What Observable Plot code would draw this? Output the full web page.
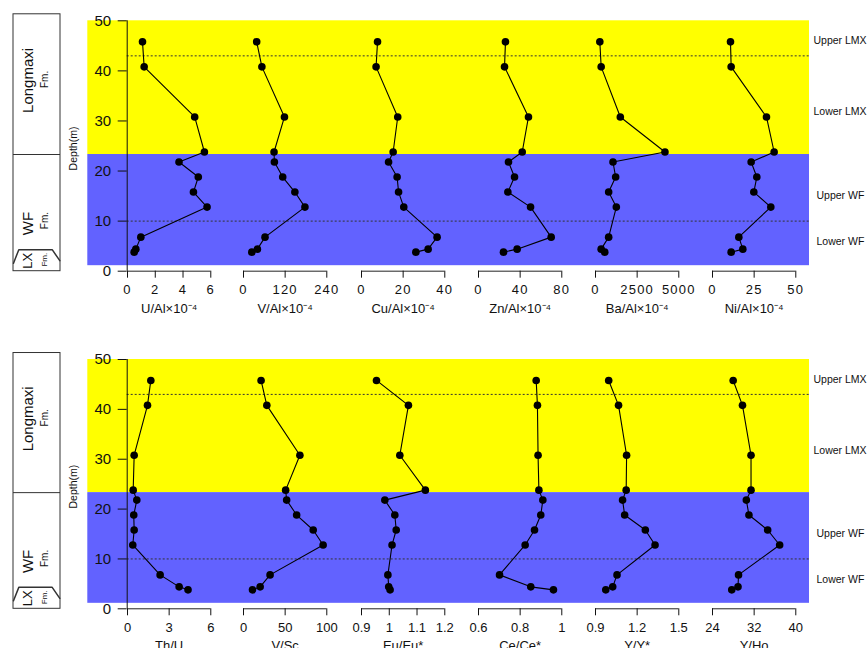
<!DOCTYPE html>
<html>
<head>
<meta charset="utf-8">
<script src="https://cdn.jsdelivr.net/npm/d3@7"></script>
<script src="https://cdn.jsdelivr.net/npm/@observablehq/plot@0.6"></script>
<style>
  html, body { margin: 0; padding: 0; background: #fff; overflow: hidden; }
  #fig { position: relative; width: 867px; height: 648px; overflow: hidden; }
  #fig svg { position: absolute; overflow: visible; }
</style>
</head>
<body>
<div id="fig"></div>
<script>
// Sample depths (m), shared by every profile
const depth = [45.8, 40.8, 30.8, 23.8, 21.8, 18.8, 15.8, 12.8, 6.8, 4.4, 3.8];

// Trace elements normalised to Al (×10⁻⁴)
const uAl  = [1.08, 1.2, 4.84, 5.54, 3.71, 5.1, 4.75, 5.73, 0.96, 0.6, 0.48];
const vAl  = [38, 53, 118, 88, 89, 113, 148, 177, 62, 40, 24];
const cuAl = [7.7, 7.0, 17.4, 15.2, 13.0, 17.1, 17.8, 20.3, 36.3, 32.0, 26.1];
const znAl = [25.9, 25, 48, 42, 28.8, 34.6, 28.2, 50, 69.8, 37.1, 24];
const baAl = [260, 340, 1490, 4170, 1050, 1210, 790, 1250, 790, 340, 555];
const niAl = [10.8, 11.2, 32.4, 37, 23.2, 26.6, 24.8, 35, 15.8, 18.2, 11.2];

// Redox / REE proxies
const thU  = [1.68, 1.44, 0.48, 0.41, 0.67, 0.45, 0.48, 0.38, 2.35, 3.72, 4.36];
const vSc  = [21.1, 28, 67.7, 50.6, 51.8, 63.8, 83.7, 95.6, 31.9, 20, 10.8];
const euEu = [0.954, 1.069, 1.038, 1.130, 0.984, 1.020, 1.025, 1.010, 0.995, 0.998, 1.003];
const ceCe = [0.877, 0.883, 0.886, 0.890, 0.909, 0.899, 0.869, 0.824, 0.701, 0.851, 0.960];
const yY   = [0.995, 1.066, 1.124, 1.121, 1.095, 1.110, 1.259, 1.329, 1.055, 1.024, 0.974];
const yHo  = [27.97, 29.76, 31.4, 31.4, 30.5, 31.0, 34.6, 36.9, 29.0, 28.9, 27.7];

// Axis titles and tick values
const topTitles = ["U/Al\u00d710\u207b\u2074", "V/Al\u00d710\u207b\u2074", "Cu/Al\u00d710\u207b\u2074",
                   "Zn/Al\u00d710\u207b\u2074", "Ba/Al\u00d710\u207b\u2074", "Ni/Al\u00d710\u207b\u2074"];
const bottomTitles = ["Th/U", "V/Sc", "Eu/Eu*", "Ce/Ce*", "Y/Y*", "Y/Ho"];
const topTicks = [[0, 2, 4, 6], [0, 120, 240], [0, 20, 40], [0, 40, 80], [0, 2500, 5000], [0, 25, 50]];
const bottomTicks = [[0, 3, 6], [0, 50, 100], [0.9, 1, 1.1, 1.2], [0.6, 0.8, 1], [0.9, 1.2, 1.5], [24, 32, 40]];
const depthTicks = [0, 10, 20, 30, 40, 50];

// Stratigraphy
const bandTop  = [50, 23.3];
const bandBase = [23.3, 1.1];
const bandFill = ["#ffff00", "#6262ff"];
const subBoundaries = [43, 10];
const subZones = ["Upper LMX", "Lower LMX", "Upper WF", "Lower WF"];
const subZoneDepth = [46, 31.8, 15.1, 5.9];
const formationBase = 23.3;
const lxTop = 4.3;

const FONT = '"Liberation Sans", Arial, Helvetica, sans-serif';
const fig = document.getElementById("fig");
const H = 330;
const panelLeft = [126.7, 243.3, 361, 478.3, 595, 712.3];
const panelWidth = 83.3;
const PAD = 34;

const topPanels = [uAl, vAl, cuAl, znAl, baAl, niAl].map((values, i) =>
  ({values, title: topTitles[i], ticks: topTicks[i]}));
const bottomPanels = [thU, vSc, euEu, ceCe, yY, yHo].map((values, i) =>
  ({values, title: bottomTitles[i], ticks: bottomTicks[i]}));

const rows = [
  {top: 0,   y50: 20.3, y0: 270.7, panels: topPanels,    spacing: "1.2px"},
  {top: 339, y50: 359,  y0: 608.3, panels: bottomPanels, spacing: "0px"}
];

const bands = bandTop.map((t, i) => ({top: t, base: bandBase[i], fill: bandFill[i]}));
const lxOutline = [{x: 13, y: 1.6}, {x: 18.3, y: lxTop}, {x: 51.7, y: lxTop}, {x: 59.3, y: 2.1}];

function place(svg, left, top) {
  svg.style.left = left + "px";
  svg.style.top = top + "px";
  fig.appendChild(svg);
}

const svgStyle = {background: "transparent", fontFamily: FONT, overflow: "visible", color: "#111"};

for (const row of rows) {
  const mt = row.y50 - row.top;
  const mb = H - (row.y0 - row.top);

  // Frame: coloured formations, depth axis, stratigraphic column and sub-zone labels
  const frame = Plot.plot({
    width: 867, height: H,
    marginTop: mt, marginBottom: mb, marginLeft: 126.7, marginRight: 0,
    style: svgStyle,
    x: {domain: [0, 867], range: [0, 867], axis: null},
    y: {domain: [0, 50]},
    color: {type: "identity"},
    marks: [
      Plot.rect(bands, {x1: 87.3, x2: 809, y1: "base", y2: "top", fill: "fill"}),
      Plot.ruleY(subBoundaries, {x1: 126.7, x2: 809, stroke: "#333", strokeDasharray: "2,2"}),
      Plot.ruleX([126.7], {y1: 0, y2: 50, stroke: "#111"}),
      Plot.axisY({ticks: depthTicks, tickSize: 9, tickPadding: 7, fontSize: 15,
                  tickFormat: String, label: null}),
      Plot.text(["Depth(m)"], {x: 72.7, y: 24.5, text: d => d, rotate: -90, fontSize: 10.5}),
      // stratigraphic column
      Plot.rect([0], {x1: 13, x2: 60, y1: 0, y2: 51.3, fill: "none", stroke: "#333"}),
      Plot.ruleY([formationBase], {x1: 13, x2: 60, stroke: "#333"}),
      Plot.line(lxOutline, {x: "x", y: "y", stroke: "#333"}),
      Plot.text(["Longmaxi", "WF"], {x: 28, y: [38.1, 9.5], text: d => d, rotate: -90, fontSize: 15}),
      Plot.text(["LX"], {x: 27, y: [2.1], text: d => d, rotate: -90, fontSize: 13}),
      Plot.text(["Fm.", "Fm."], {x: 44, y: [38.3, 10.1], text: d => d, rotate: -90, fontSize: 10}),
      Plot.text(["Fm."], {x: 43.5, y: [2.3], text: d => d, rotate: -90, fontSize: 8}),
      // sub-zone names on the right
      Plot.text(subZones, {x: (d, i) => i < 2 ? 813 : 816, y: subZoneDepth, text: d => d,
                           textAnchor: "start", fontSize: 10.5})
    ]
  });
  place(frame, 0, row.top);

  // One profile per proxy, each with its own horizontal scale
  row.panels.forEach((p, i) => {
    const data = depth.map((d, j) => ({depth: d, value: p.values[j]}));
    const lo = p.ticks[0], hi = p.ticks[p.ticks.length - 1];
    const svg = Plot.plot({
      width: panelWidth + 2 * PAD, height: H,
      marginTop: mt, marginBottom: mb, marginLeft: PAD, marginRight: PAD,
      style: svgStyle,
      x: {domain: [lo, hi]},
      y: {domain: [0, 50], axis: null},
      marks: [
        Plot.ruleY([0], {x1: lo, x2: hi, stroke: "#222"}),
        Plot.axisX({ticks: p.ticks, tickSize: 7, tickPadding: 7, fontSize: 13,
                    tickFormat: String, label: null}),
        Plot.line(data, {x: "value", y: "depth", stroke: "#000", strokeWidth: 1.1}),
        Plot.dot(data, {x: "value", y: "depth", r: 3.8, fill: "#000"}),
        Plot.text([p.title], {text: d => d, frameAnchor: "bottom", lineAnchor: "middle",
                              dy: 37.5, fontSize: 13})
      ]
    });
    d3.select(svg).selectAll('g[aria-label="x-axis tick label"] text')
      .style("letter-spacing", row.spacing);
    place(svg, panelLeft[i] - PAD, row.top);
  });
}
</script>
</body>
</html>
